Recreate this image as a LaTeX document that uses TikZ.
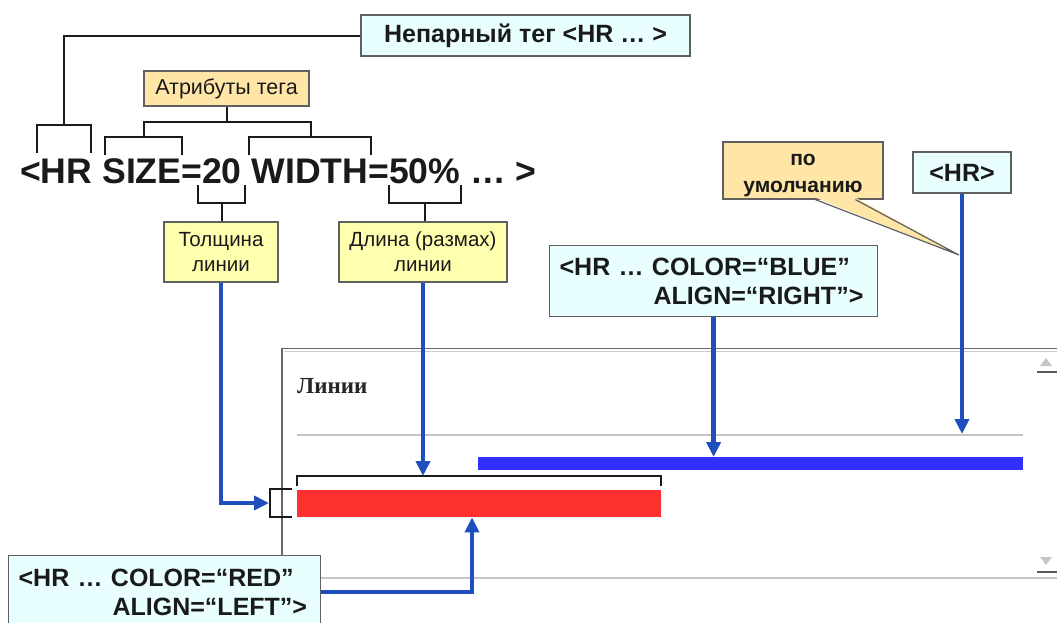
\documentclass[tikz,border=0pt]{standalone}
\usepackage{fontspec}
\setmainfont{Liberation Sans}
\newfontfamily\winfont{Liberation Serif}
\usetikzlibrary{calc,arrows.meta,positioning}

\definecolor{boxcyan}{HTML}{E9FFFF}
\definecolor{boxpeach}{HTML}{FFE5A6}
\definecolor{boxyellow}{HTML}{FFFFB0}
\definecolor{arrowblue}{HTML}{1F4FBF}
\definecolor{barblue}{HTML}{3030FF}
\definecolor{barred}{HTML}{FF3030}
\definecolor{inkgray}{HTML}{1A1A1A}

\tikzset{
  tagbox/.style={draw=gray!75!black, line width=1.2pt, fill=boxcyan, text=inkgray,
    font=\bfseries\fontsize{25}{29}\selectfont, inner sep=0pt},
  notebox/.style={draw=gray!75!black, line width=1.2pt, fill=boxyellow, text=inkgray,
    font=\fontsize{20.5}{25}\selectfont, align=center, inner sep=0pt},
  bracket/.style={draw=inkgray, line width=2pt},
  hrarrow/.style={draw=arrowblue, line width=4.5pt, -{Triangle[length=15pt,width=14pt]}},
}

\begin{document}
\begin{tikzpicture}[x=1pt,y=-1pt]
  \useasboundingbox (0,0) rectangle (1057,622);
  \clip (0,0) rectangle (1057,622);

  %% The browser window
  \draw[gray!80!black, line width=1.5pt] (282,578) -- (282,348.5) -- (1057,348.5);
  \draw[gray!40, line width=1pt] (283.5,351) -- (1057,351);
  \draw[gray!45, line width=1.3pt] (320,578) -- (1057,578);
  \fill[gray!45] (1040,366) -- (1046,358) -- (1052,366) -- cycle;
  \draw[gray!70!black, line width=1.2pt] (1037,372) -- (1057,372);
  \fill[gray!45] (1040,557) -- (1046,565) -- (1052,557) -- cycle;
  \draw[gray!70!black, line width=1.2pt] (1037,572) -- (1057,572);
  \node[anchor=base west, inner sep=0pt, text=gray!30!black,
    font=\winfont\bfseries\fontsize{23}{24}\selectfont] (winTitle) at (297,393) {Линии};

  %% The three lines shown in the window
  \draw[gray!45, line width=1.2pt] (297,435) -- (1023,435);
  \coordinate (defRule) at (962,434);
  \node[fill=barblue, inner sep=0pt, minimum width=545pt, minimum height=13pt,
    anchor=north west] (blueBar) at (478,457) {};
  \node[fill=barred, inner sep=0pt, minimum width=364pt, minimum height=27pt,
    anchor=north west] (redBar) at (297,490) {};
  \draw[bracket] (297,486) -- (297,476) -- (661,476) -- (661,486);
  \coordinate (brSpan) at (423,476);
  \draw[bracket] (292,489) -- (270,489) -- (270,517) -- (292,517);
  \coordinate (brThick) at (269,503);
  \coordinate (redUp) at ($(redBar.south west)+(175,0)$);

  %% The tag and its attributes
  \node[anchor=base west, inner sep=0pt, text=inkgray,
    font=\bfseries\fontsize{35.6}{40}\selectfont] (tag) at (20,183) {<HR SIZE=20 WIDTH=50\% … >};
  \node[tagbox, minimum width=329pt, minimum height=41pt] (unpaired) at (525.5,35.5)
    {Непарный тег <HR … >};
  \node[notebox, fill=boxpeach, font=\fontsize{21.5}{25}\selectfont,
    minimum width=165pt, minimum height=35pt] (attrs) at (226.5,88.5) {Атрибуты тега};

  \foreach \l/\r/\t/\b/\n in {37/91/125/153/brHR, 105/182/137/155/brSize,
      249/371/137/155/brWidth, 144/311/122/137/brAttr}
  {
    \draw[bracket] (\l,\b) -- (\l,\t) -- (\r,\t) -- (\r,\b);
    \coordinate (\n) at ({(\l+\r)/2},\t);
  }
  \foreach \l/\r/\t/\b/\n in {198/245/185/203/brTwenty, 389/461/185/203/brFifty}
  {
    \draw[bracket] (\l,\t) -- (\l,\b) -- (\r,\b) -- (\r,\t);
    \coordinate (\n) at ({(\l+\r)/2},\b);
  }
  \draw[bracket] (unpaired.west) -| (brHR);
  \draw[bracket] (attrs.south) -- (attrs.south |- brAttr);

  %% Notes under the tag
  \node[notebox, minimum width=114pt, minimum height=60pt] (thick) at (221,252) {Толщина\\линии};
  \node[notebox, minimum width=168pt, minimum height=60pt] (span) at (423,252) {Длина (размах)\\линии};
  \draw[bracket] (brTwenty) -- (brTwenty |- thick.north);
  \draw[bracket] (brFifty) -- (brFifty |- span.north);

  %% Callout "by default"
  \node[notebox, fill=boxpeach, minimum width=160pt, minimum height=57pt] (dflt) at (803,170.5) {};
  \node[align=center, inner sep=0pt, text=inkgray, font=\bfseries\fontsize{21}{27}\selectfont]
    (dfltText) at ($(dflt.center)+(0,5)$) {по\\умолчанию};
  \coordinate (dfltTip) at (959,255);
  \fill[boxpeach] ($(dflt.south west)+(93,-2)$) -- (dfltTip) -- ($(dflt.south west)+(133,-2)$) -- cycle;
  \draw[gray!75!black, line width=1.2pt] ($(dflt.south west)+(93,0)$) -- (dfltTip)
    -- ($(dflt.south west)+(133,0)$);

  %% Tag variants
  \node[tagbox, minimum width=98pt, minimum height=41pt] (hrPlain) at (962,172.5) {<HR>};
  \node[tagbox, anchor=north west, text width=308pt, inner xsep=10pt, inner ysep=12pt,
    align=left] (hrBlue) at (549,245) {<HR … COLOR=“BLUE”\\\hspace*{94pt}ALIGN=“RIGHT”>};
  \node[tagbox, anchor=north west, text width=292pt, inner xsep=10pt, inner ysep=13pt,
    align=left] (hrRed) at (8,555) {<HR … COLOR=“RED”\\\hspace*{94pt}ALIGN=“LEFT”>};

  %% Arrows
  \draw[hrarrow] (thick.south) |- (brThick);
  \draw[hrarrow] (span.south) -- (brSpan);
  \draw[hrarrow] (hrBlue.south) -- (hrBlue.south |- blueBar.north);
  \draw[hrarrow] (hrPlain.south) -- (defRule);
  \draw[hrarrow] (hrRed.east) -| (redUp);

\end{tikzpicture}
\end{document}
